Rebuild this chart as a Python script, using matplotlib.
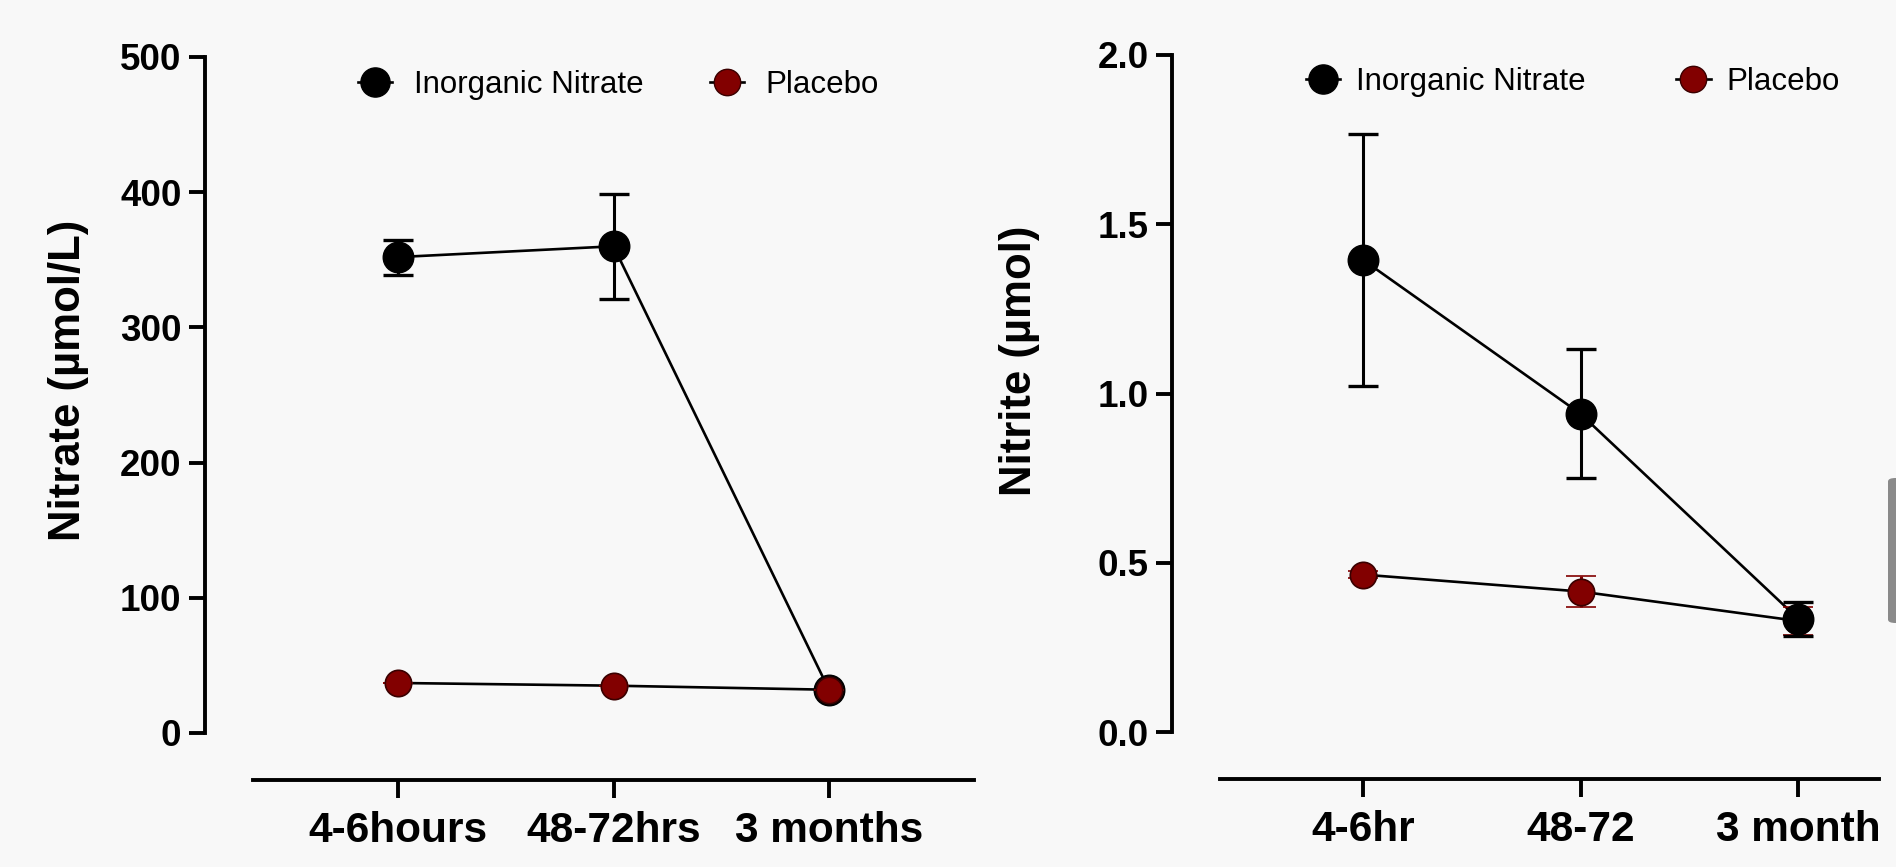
import matplotlib
matplotlib.use('Agg')
import matplotlib.pyplot as plt
from matplotlib.lines import Line2D
from matplotlib.patches import FancyBboxPatch

plt.rcParams['font.family'] = ['Liberation Sans', 'DejaVu Sans']

# data
categories_left = ["4-6hours", "48-72hrs", "3 months"]
categories_right = ["4-6hr", "48-72", "3 month"]

nitrate_inorganic = [352, 360, 32]
nitrate_inorganic_err = [13, 39, 0]
nitrate_placebo = [37, 35, 32]
nitrate_placebo_err = [0, 0, 0]

nitrite_inorganic = [1.395, 0.94, 0.335]
nitrite_inorganic_err = [0.372, 0.19, 0.05]
nitrite_placebo = [0.465, 0.415, 0.328]
nitrite_placebo_err = [0.01, 0.046, 0.04]

BG = '#f8f8f8'
RED = '#820000'
PX = 72 / 100  # points per pixel at dpi 100

fig = plt.figure(figsize=(18.96, 8.67), dpi=100, facecolor=BG)


def panel(rect, cats, inorg, inorg_err, plac, plac_err, ylim, yticks, ylabel,
          xlim, ylabel_pos, red_on_top, legend_pos, leg_kw):
    ax = fig.add_axes(rect)
    ax.set_facecolor(BG)
    x = list(range(len(cats)))
    z_black, z_red = (3, 4) if red_on_top else (4, 3)
    ax.plot(x, inorg, color='black', lw=1.9, zorder=2)
    ax.plot(x, plac, color='black', lw=1.9, zorder=2)
    ax.errorbar(x, inorg, yerr=inorg_err, fmt='o', color='black', ms=22,
                mec='black', elinewidth=2.2, capsize=11, capthick=2.4, zorder=z_black)
    ax.errorbar(x, plac, yerr=plac_err, fmt='o', color=RED, ecolor=RED, ms=19,
                mec='#3a0000', mew=1.2, elinewidth=2.2, capsize=11, capthick=2.4,
                zorder=z_red)

    ax.set_xlim(*xlim)
    ax.set_ylim(*ylim)
    ax.set_yticks(yticks)
    ax.set_xticks(x)
    ax.set_xticklabels(cats)
    for s in ['top', 'right']:
        ax.spines[s].set_visible(False)
    ax.spines['left'].set_position(('outward', 48 * PX))
    ax.spines['bottom'].set_position(('outward', 47 * PX))
    for s in ['left', 'bottom']:
        ax.spines[s].set_linewidth(2.8)
    ax.tick_params(axis='y', length=11.5, width=2.8, pad=5.5, labelsize=26.5)
    ax.tick_params(axis='x', length=13, width=2.8, pad=9, labelsize=30.5)
    for lab in ax.get_xticklabels() + ax.get_yticklabels():
        lab.set_fontweight('bold')

    ax.set_ylabel(ylabel, fontsize=31.5, fontweight='bold', va='center')
    ax.yaxis.set_label_coords(ylabel_pos[0], ylabel_pos[1], transform=fig.transFigure)

    handles = [
        Line2D([], [], color='black', marker='o', ms=21, lw=1.9, mec='black'),
        Line2D([], [], color='black', marker='o', ms=19, lw=1.9, mfc=RED, mec='#3a0000'),
    ]
    ax.legend(handles, ["Inorganic Nitrate", "Placebo"], ncol=2, frameon=False,
              loc='center left', bbox_to_anchor=legend_pos, bbox_transform=fig.transFigure,
              fontsize=22.5, borderpad=0, borderaxespad=0, handlelength=1.1, **leg_kw)
    return ax


panel([253 / 1896, 1 - 733 / 867, (974 - 253) / 1896, (733 - 57) / 867],
      categories_left, nitrate_inorganic, nitrate_inorganic_err,
      nitrate_placebo, nitrate_placebo_err,
      (0, 500), [0, 100, 200, 300, 400, 500], "Nitrate (µmol/L)",
      (-0.673, 2.673), (69 / 1896, 1 - 380 / 867), True,
      (358 / 1896, 1 - 85 / 867), dict(handletextpad=0.7, columnspacing=2.1))

panel([1220 / 1896, 1 - 732 / 867, (1879 - 1220) / 1896, (732 - 55) / 867],
      categories_right, nitrite_inorganic, nitrite_inorganic_err,
      nitrite_placebo, nitrite_placebo_err,
      (0, 2.0), [0.0, 0.5, 1.0, 1.5, 2.0], "Nitrite (µmol)",
      (-0.657, 2.372), (1019 / 1896, 1 - 361 / 867), False,
      (1306 / 1896, 1 - 82 / 867), dict(handletextpad=0.5, columnspacing=2.9))

for ax in fig.axes[1:]:
    ax.yaxis.set_major_formatter(matplotlib.ticker.FormatStrFormatter('%.1f'))

# grey scroll handle at the right edge of the screenshot
fig.patches.append(FancyBboxPatch((1888 / 1896, 1 - 623 / 867), 0.02, 145 / 867,
                                  boxstyle='round,pad=0,rounding_size=0.004',
                                  transform=fig.transFigure, facecolor='#8a8a8a',
                                  edgecolor='none', figure=fig))

fig.savefig('out.png', dpi=100, facecolor=BG)
